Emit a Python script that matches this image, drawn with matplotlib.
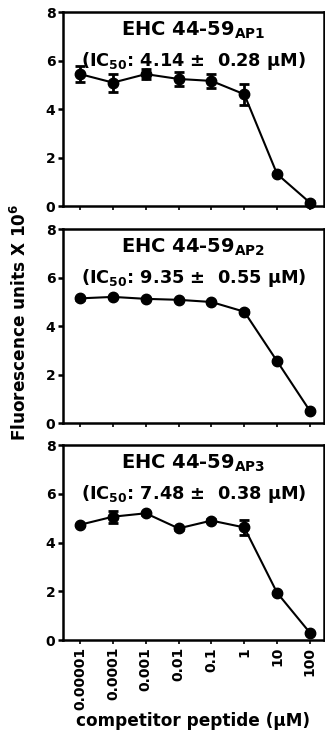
import matplotlib.pyplot as plt

plt.rcParams['font.family'] = ['DejaVu Sans']
plt.rcParams['font.weight'] = 'bold'
plt.rcParams['mathtext.fontset'] = 'dejavusans'
plt.rcParams['mathtext.default'] = 'bf'

conc = [0.00001, 0.0001, 0.001, 0.01, 0.1, 1, 10, 100]
conc_labels = ["0.00001", "0.0001", "0.001", "0.01", "0.1", "1", "10", "100"]

ap1 = [5.44, 5.09, 5.44, 5.24, 5.16, 4.61, 1.32, 0.14]
ap1_err = [0.33, 0.37, 0.2, 0.3, 0.3, 0.43, 0.05, 0.05]
ap2 = [5.14, 5.2, 5.12, 5.08, 4.99, 4.59, 2.55, 0.5]
ap2_err = [0.05, 0.05, 0.05, 0.05, 0.05, 0.05, 0.05, 0.05]
ap3 = [4.73, 5.06, 5.2, 4.58, 4.9, 4.62, 1.94, 0.3]
ap3_err = [0.05, 0.25, 0.05, 0.05, 0.05, 0.3, 0.05, 0.05]

names = ["AP1", "AP2", "AP3"]
ic50 = ["4.14", "9.35", "7.48"]
ic50_err = ["0.28", "0.55", "0.38"]

fig = plt.figure(figsize=(3.25, 7.34), dpi=100)
boxes = [[0.194, 0.7193, 0.803, 0.2643],
         [0.194, 0.4237, 0.803, 0.2643],
         [0.194, 0.128, 0.803, 0.2657]]

data = [(ap1, ap1_err), (ap2, ap2_err), (ap3, ap3_err)]
for i, (vals, errs) in enumerate(data):
    ax = fig.add_axes(boxes[i])
    ax.errorbar(conc, vals, yerr=errs, fmt='-o', color='black', lw=1.5,
                ms=7.5, capsize=3.5, elinewidth=2, capthick=2, clip_on=False, zorder=3)
    ax.set_xscale('log')
    ax.set_xlim(10**-5.52, 10**2.43)
    ax.set_ylim(0, 8)
    ax.set_yticks([0, 2, 4, 6, 8])
    ax.set_xticks(conc)
    ax.minorticks_off()
    for s in ax.spines.values():
        s.set_linewidth(1.8)
    ax.tick_params(axis='y', direction='out', length=3.5, width=1.8, labelsize=10, pad=2)
    ax.tick_params(axis='x', direction='out', length=3, width=1.2, labelsize=10, pad=2)
    if i == 2:
        ax.set_xticklabels(conc_labels, rotation=90, fontweight='bold')
        ax.set_xlabel("competitor peptide (\u03bcM)", fontsize=12.2, fontweight='bold', labelpad=1)
    else:
        ax.set_xticklabels([])
    ax.text(0.5, 0.905, "EHC 44-59$_{AP%d}$" % (i + 1), transform=ax.transAxes,
            ha='center', va='center', fontsize=14, fontweight='bold')
    ax.text(0.5, 0.75, "(IC$_{50}$: %s \u00b1  %s \u03bcM)" % (ic50[i], ic50_err[i]),
            transform=ax.transAxes, ha='center', va='center', fontsize=12.8, fontweight='bold')

fig.text(0.062, 0.561, "Fluorescence units X 10$^{6}$", rotation=90,
         ha='center', va='center', fontsize=12.2, fontweight='bold')

fig.savefig("out.png", dpi=100)
